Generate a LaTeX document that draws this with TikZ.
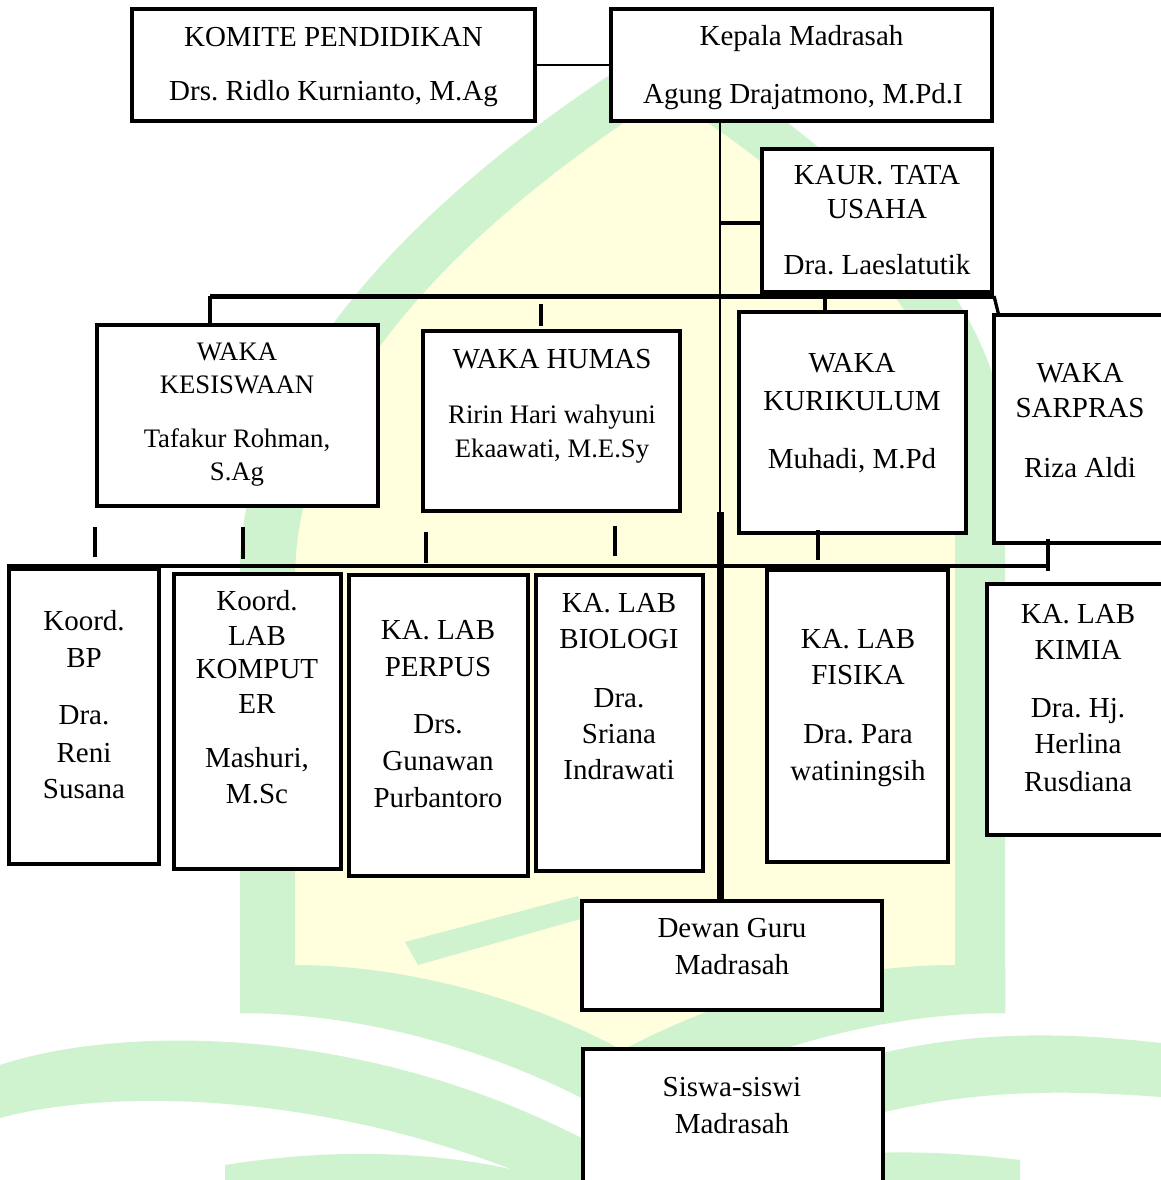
\documentclass[tikz,border=0pt]{standalone}
\usepackage{fontspec}
\setmainfont{Liberation Serif}
\definecolor{wmg}{RGB}{206,243,206}
\definecolor{wmy}{RGB}{255,255,221}
\newcommand\tl[5][txtst]{\node[#1] (#2) at (#3,#4) {#5};}
\frenchspacing
\begin{document}
\begin{tikzpicture}[x=1pt,y=-1pt,
 boxst/.style={draw=black,fill=white,line width=3.5pt,inner sep=0pt,rectangle},
 txtst/.style={anchor=base,inner sep=0pt,font=\fontsize{29}{34}\selectfont},
 smtxt/.style={anchor=base,inner sep=0pt,font=\fontsize{26.7}{32}\selectfont},
 conn/.style={line width=2pt},
 tk/.style={line width=3.3pt},
 topbar/.style={line width=5pt},
 lowbar/.style={line width=3.5pt},
 trunkthin/.style={line width=2.8pt},
 trunkthick/.style={line width=7pt}]
\clip (0,0) rectangle (1161,1180);
\fill[white] (0,0) rectangle (1161,1180);
% ---- watermark ----
\fill[wmy] (295,965) -- (295,580) .. controls (295,360) and (520,190) .. (665,95)
  .. controls (820,190) and (955,330) .. (955,450) -- (955,965)
  .. controls (850,965) and (725,995) .. (622,1050)
  .. controls (520,995) and (400,965) .. (295,965) -- cycle;
\fill[wmg] (240,1013) -- (240,560) .. controls (250,330) and (500,140) .. (665,40)
  .. controls (850,150) and (1005,300) .. (1005,450) -- (1005,1013) -- (955,1013)
  -- (955,450) .. controls (955,330) and (820,190) .. (665,95)
  .. controls (520,190) and (295,360) .. (295,580) -- (295,1013) -- cycle;
\fill[wmg] (240,1013) .. controls (380,1013) and (520,1060) .. (622,1120) -- (622,1050)
  .. controls (520,995) and (400,965) .. (295,965) -- (240,965) -- cycle;
\fill[wmg] (1005,1013) .. controls (865,1013) and (725,1060) .. (623,1120) -- (623,1050)
  .. controls (725,995) and (845,965) .. (955,965) -- (1005,965) -- cycle;
\fill[wmg] (0,1065) .. controls (120,1025) and (380,1020) .. (622,1160) -- (622,1220)
  .. controls (380,1090) and (120,1085) .. (0,1118) -- cycle;
\fill[wmg] (1161,1043) .. controls (1000,1025) and (850,1030) .. (623,1160) -- (623,1220)
  .. controls (850,1090) and (1000,1085) .. (1161,1097) -- cycle;
\fill[wmg] (225,1165) .. controls (350,1145) and (480,1150) .. (600,1195) -- (225,1195) -- cycle;
\fill[wmg] (1020,1160) .. controls (900,1145) and (770,1150) .. (650,1195) -- (1020,1195) -- cycle;
\fill[wmg] (405,942) -- (578,896) -- (584,918) -- (418,965) -- cycle;
% ---- boxes and connectors ----
\node[boxst,minimum width=403,minimum height=112] (komite) at (333.5,65) {};
\node[boxst,minimum width=381,minimum height=112] (kepala) at (801.5,65) {};
\draw[conn] (komite.east) -- (kepala.west);
\node[boxst,minimum width=300,minimum height=109] (dewan) at (732,955.5) {};
\coordinate (tA) at (720,121);
\coordinate (tB) at (720,512);
\draw[trunkthin] (tA) -- (tB);
\node[boxst,minimum width=230,minimum height=143] (kaur) at (877,220.5) {};
\coordinate (kk) at (720,223);
\draw[line width=4pt] (kk) -- (kk -| kaur.west);
\node[boxst,minimum width=281,minimum height=181] (kesis) at (237.5,415.5) {};
\node[boxst,minimum width=257,minimum height=180] (humas) at (551.5,421) {};
\node[boxst,minimum width=227,minimum height=221] (kurik) at (852.5,422.5) {};
\node[boxst,minimum width=176,minimum height=228] (sarpras) at (1082,429) {};
\coordinate (barL) at (210,296);
\coordinate (barR) at (994,296);
\draw[topbar] (barL) -- (barR);
\draw[tk] (barL) -- (barL |- kesis.north);
\coordinate (hT) at (541,304);
\draw[tk] (hT) -- ++(0,22);
\coordinate (kD) at (825,296);
\draw[tk] (kD) -- (kD |- kurik.north);
\draw[tk] (barR) -- ([xshift=6pt]sarpras.north west);
% level 2 ticks
\coordinate (k1) at (95,527);  \draw[tk] (k1) -- ++(0,30);
\coordinate (k2) at (243,527); \draw[tk] (k2) -- ++(0,32);
\coordinate (k3) at (426,532); \draw[tk] (k3) -- ++(0,31);
\coordinate (k4) at (615,526); \draw[tk] (k4) -- ++(0,30);
\coordinate (k5) at (818,530); \draw[tk] (k5) -- ++(0,30);
\coordinate (k6) at (1048,539); \draw[tk] (k6) -- ++(0,32);
\coordinate (lbL) at (7,566);
\coordinate (lbR) at (1048,566);
\draw[lowbar] (lbL) -- (lbR);
% level 3 boxes
\node[boxst,minimum width=150,minimum height=295] (bp) at (84,716.5) {};
\node[boxst,minimum width=167,minimum height=295] (komp) at (257.5,721.5) {};
\node[boxst,minimum width=179,minimum height=301] (perpus) at (438.5,725.5) {};
\node[boxst,minimum width=167,minimum height=296] (bio) at (619.5,723) {};
\node[boxst,minimum width=181,minimum height=292] (fis) at (857.5,716) {};
\node[boxst,minimum width=184,minimum height=251] (kimia) at (1079,709.5) {};
\node[boxst,minimum width=300,minimum height=161] (siswa) at (733,1129.5) {};
\draw[trunkthick] (tB) -- (tB |- dewan.north);
% ---- texts ----
\tl{a1}{333.5}{46.7}{KOMITE PENDIDIKAN}
\tl{a2}{333.5}{101}{Drs. Ridlo Kurnianto, M.Ag}
\tl{b1}{801.5}{45.7}{Kepala Madrasah}
\tl{b2}{803}{104}{Agung Drajatmono, M.Pd.I}
\tl{c1}{877}{184}{KAUR. TATA}
\tl{c2}{877}{218}{USAHA}
\tl{c3}{877}{274}{Dra. Laeslatutik}
\tl[smtxt]{d1}{237}{360.7}{WAKA}
\tl[smtxt]{d2}{237}{393}{KESISWAAN}
\tl[smtxt]{d3}{237}{447}{Tafakur Rohman,}
\tl[smtxt]{d4}{237}{480.7}{S.Ag}
\tl{e1}{552}{368}{WAKA HUMAS}
\tl[smtxt]{e2}{552}{423}{Ririn Hari wahyuni}
\tl[smtxt]{e3}{552}{457}{Ekaawati, M.E.Sy}
\tl{f1}{852}{372}{WAKA}
\tl{f2}{852}{410}{KURIKULUM}
\tl{f3}{852}{468}{Muhadi, M.Pd}
\tl{g1}{1080}{382}{WAKA}
\tl{g2}{1080}{417}{SARPRAS}
\tl{g3}{1080}{477}{Riza Aldi}
\tl{h1}{84}{630}{Koord.}
\tl{h2}{84}{667}{BP}
\tl{h3}{84}{724}{Dra.}
\tl{h4}{84}{762}{Reni}
\tl{h5}{84}{798}{Susana}
\tl{i1}{257}{610}{Koord.}
\tl{i2}{257}{645}{LAB}
\tl{i3}{257}{678}{KOMPUT}
\tl{i4}{257}{713}{ER}
\tl{i5}{257}{767}{Mashuri,}
\tl{i6}{257}{803}{M.Sc}
\tl{j1}{438}{639}{KA. LAB}
\tl{j2}{438}{676}{PERPUS}
\tl{j3}{438}{733}{Drs.}
\tl{j4}{438}{770}{Gunawan}
\tl{j5}{438}{807}{Purbantoro}
\tl{m1}{619}{612}{KA. LAB}
\tl{m2}{619}{648}{BIOLOGI}
\tl{m3}{619}{707}{Dra.}
\tl{m4}{619}{743}{Sriana}
\tl{m5}{619}{779}{Indrawati}
\tl{n1}{858}{648}{KA. LAB}
\tl{n2}{858}{684}{FISIKA}
\tl{n3}{858}{743}{Dra. Para}
\tl{n4}{858}{780}{watiningsih}
\tl{p1}{1078}{623}{KA. LAB}
\tl{p2}{1078}{659}{KIMIA}
\tl{p3}{1078}{717}{Dra. Hj.}
\tl{p4}{1078}{753}{Herlina}
\tl{p5}{1078}{791}{Rusdiana}
\tl{q1}{732}{937}{Dewan Guru}
\tl{q2}{732}{974}{Madrasah}
\tl{r1}{732}{1096}{Siswa-siswi}
\tl{r2}{732}{1133}{Madrasah}
\end{tikzpicture}
\end{document}
